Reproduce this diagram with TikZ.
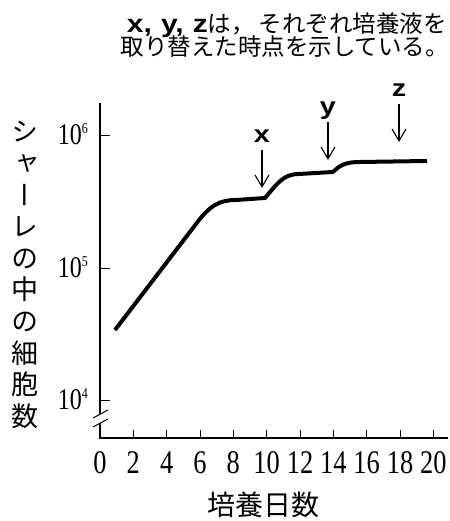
\documentclass[tikz,border=0pt]{standalone}
\usepackage{fontspec}
\setmainfont{Liberation Serif}
\newfontfamily\jpfont{Noto Sans CJK JP}
\newfontfamily\jpvert[RawFeature=+vert]{Noto Sans CJK JP}
\newfontfamily\numfont[FakeStretch=0.8]{Liberation Serif}
\newfontfamily\tagfont[FakeStretch=1.2]{Liberation Sans}
\usetikzlibrary{arrows.meta,positioning}
\newcommand{\decade}[1]{10\raisebox{11pt}{\fontsize{15}{15}\selectfont #1}}

\begin{document}
\begin{tikzpicture}[
		x=1pt, y=1pt,
		axis/.style={line width=1.3pt},
		growth/.style={line width=4pt, line join=round},
		marker/.style={line width=1.1pt, -{Straight Barb[length=12pt,width=14pt]}, shorten <=7pt},
		tag/.style={font=\tagfont\bfseries\fontsize{24}{24}\selectfont, inner sep=0pt, text depth=0pt},
		note/.style={font=\jpfont\fontsize{23.5}{23.5}\selectfont, inner sep=0pt},
		daylabel/.style={font=\numfont\fontsize{33}{33}\selectfont, inner sep=0pt},
		countlabel/.style={font=\numfont\fontsize{30}{30}\selectfont, inner sep=0pt, anchor=base east}
		]
		\useasboundingbox (0,0) rectangle (449,521);
		% note
		\node (note1) [note, anchor=east] at (447,496) {{\tagfont\bfseries\fontsize{25}{25}\selectfont x,\hspace{9pt}y,\hspace{9pt}z}は，\hspace{4pt}それぞれ培養液を};
		\node (note2) [note, anchor=east] at (449,474) {取り替えた時点を示している。};
		% axes
		\draw[axis] (100,418) -- (100,107);
		\draw[axis] (100,98) -- (100,83) -- (448,83);
		\draw[axis, line width=1pt] (93,103) -- (108,111) (93,94) -- (108,102);
		\foreach \e/\y in {4/120,5/252,6/385} {
			\draw[axis, line width=1pt] (100,\y) -- (110,\y);
			\node (count\e) [countlabel] at (88,\y-9) {\decade{\e}};
		}
		\foreach \d in {0,2,...,20} {
			\ifnum\d>0 \draw[axis, line width=1pt] ({100+16.667*\d},83) -- ++(0,8); \fi
			\node (day\d) [daylabel] at ({100+16.667*\d},58) {\d};
		}
		\node (xtitle) [font=\jpfont\fontsize{28}{28}\selectfont, inner sep=0pt] at (263,16) {培養日数};
		\node (ytitle) [font=\jpvert\fontsize{27}{31.6}\selectfont, align=center, inner sep=0pt] at (25,246)
			{シ\\ャ\\ー\\レ\\の\\中\\の\\細\\胞\\数};
		% cell count
		\draw[growth] (115,191) -- (196,297) .. controls (210,316) and (220,321) .. (236,321)
			-- (265,323) .. controls (277,337) and (283,347) .. (299,347)
			-- (333,349) .. controls (340,356) and (346,359) .. (360,359) -- (427,360);
		% medium changes
		\coordinate (tipx) at (262,333);
		\coordinate (tipy) at (328,361);
		\coordinate (tipz) at (399,379);
		\node (labx) [tag, above=45pt of tipx] {x};
		\node (laby) [tag, above=45pt of tipy] {y};
		\node (labz) [tag, above=45pt of tipz] {z};
		\draw[marker] (labx) -- (tipx);
		\draw[marker] (laby) -- (tipy);
		\draw[marker] (labz) -- (tipz);
	\end{tikzpicture}
\end{document}
